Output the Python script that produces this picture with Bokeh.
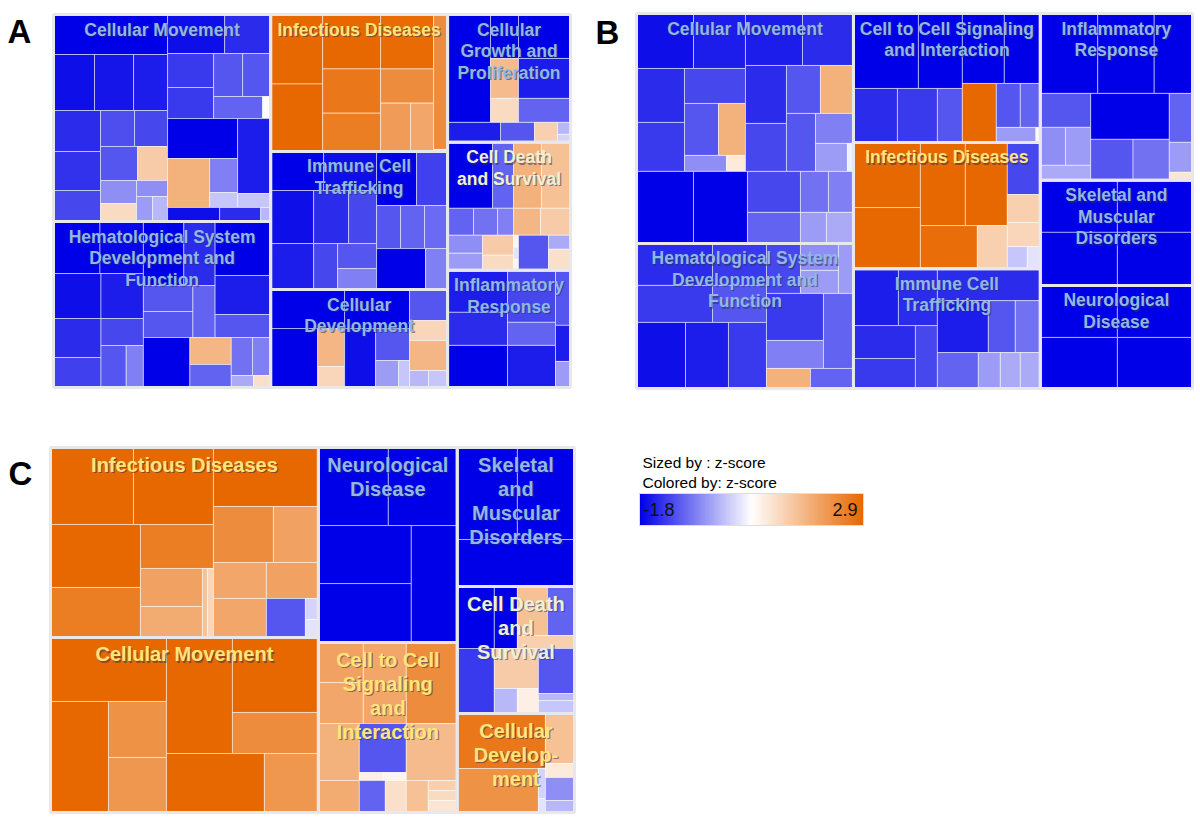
import numpy as np
from bokeh.plotting import figure
from bokeh.models import Range1d, LinearColorMapper
from bokeh.core.properties import value
from bokeh.embed import file_html
from bokeh.resources import INLINE

# ---------------- data ----------------
# leaf = (relative size, z-score); group = (relative size, split, [children])
# --- Panel A ---
A_names = ["Cellular Movement", "Hematological System\nDevelopment and\nFunction",
           "Infectious Diseases", "Immune Cell\nTrafficking", "Cellular\nDevelopment",
           "Cellular\nGrowth and\nProliferation", "Cell Death\nand Survival",
           "Inflammatory\nResponse"]
A_sizes = [44.9, 36.0, 24.2, 24.4, 17.3, 15.7, 15.7, 14.4]
A_columns = [[0, 1], [2, 3, 4], [5, 6, 7]]

A_cellular_movement = ("h", [
    (114, "v", [
        (40, -1.8),
        (56, "h", [(41, -1.7), (39, -1.65), (34, -1.6)]),
        (111, "h", [
            (47, "v", [(41, -1.5), (39, -1.45), (31, -1.3)]),
            (67, "v", [
                (36, "h", [(34, -1.25), (33, -1.3)]),
                (34, "h", [(37, -1.2), (30, 1.0)]),
                (41, "h", [(36, "v", [(23, -0.8), (18, 0.7)]),
                           (31, "v", [(16, -0.8), (25, "h", [(16, -0.7), (15, -0.5)])])]),
            ]),
        ]),
    ]),
    (103, "v", [
        (39, "h", [(57, -1.7), (46, -1.5)]),
        (65, "h", [(46, "v", [(34, -1.4), (31, -1.4)]),
                   (57, "v", [(43, "h", [(29, -1.2), (28, -1.2)]),
                              (22, "h", [(49, -1.1), (8, 0.1)])])]),
        (89, "h", [(70, "v", [(40, -1.8), (49, "h", [(42, 1.5), (28, "v", [(34, -0.9), (15, -0.4)])])]),
                   (33, "v", [(75, -1.6), (14, -0.4)])]),
        (14, "h", [(52, -1.7), (41, -1.5), (10, -0.5)]),
    ]),
])
A_hematological = ("h", [
    (89, "v", [
        (52, "h", [(46, -1.8), (43, -1.75)]),
        (114, "h", [
            (47, "v", [(45, -1.7), (39, -1.5), (30, -1.35)]),
            (42, "v", [(45, -1.6), (27, -1.3), (42, "h", [(25, -1.2), (17, -0.9)])]),
        ]),
    ]),
    (126, "v", [
        (116, "h", [
            (71, "v", [(64, "h", [(40, -1.8), (31, -1.5)]),
                       (52, "h", [(49, "v", [(26, -1.2), (26, -1.2)]), (22, -1.1)])]),
            (55, "v", [(54, -1.8), (39, -1.6), (23, -1.2)]),
        ]),
        (50, "h", [(46, -1.8), (41, "v", [(27, 1.4), (23, -1.1)]),
                   (39, "v", [(38, "h", [(21, -1.0), (18, -0.9)]),
                              (12, "h", [(22, -0.6), (17, 0.6)])])]),
    ]),
])
A_infectious = ("h", [
    (52, "v", [(69, 2.9), (67, 2.9)]),
    (111, "v", [(54, "h", [(58, 2.9), (53, 2.85)]),
                (82, "h", [(58, "v", [(44, 2.6), (38, 2.5)]),
                           (53, "v", [(34, 2.2), (48, "h", [(30, 1.9), (23, 1.7)])])])]),
    (14, "v", [(134, 2.2), (2, 0.3)]),
])
A_immune = ("h", [
    (106, "v", [
        (39, "h", [(53, -1.8), (53, -1.7)]),
        (53, "h", [(43, -1.7), (35, -1.5), (28, -1.3)]),
        (46, "h", [(43, -1.6), (24, -1.3), (39, "v", [(25, -1.2), (21, -0.9)])]),
    ]),
    (71, "v", [(54, "h", [(40, -1.8), (31, -1.35)]),
               (43, "h", [(24, -1.2), (24, -1.1), (23, -1.05)]),
               (41, "h", [(49, -1.8), (22, -0.9)])]),
])
A_cell_dev = ("h", [
    (74, "v", [(39, -1.8), (59, "h", [(47, -1.8), (27, "v", [(38, 1.4), (21, 0.8)])])]),
    (65, "v", [(39, -1.8), (59, "h", [(31, -1.7), (34, "v", [(32, -1.2), (27, "h", [(23, -0.7), (11, -0.4)])])])]),
    (38, "v", [(31, -1.2), (20, 0.8), (30, 1.4), (17, "h", [(19, -0.5), (19, -0.4)])]),
])
A_growth = ("v", [
    (108, "h", [(43, -1.8),
                (80, "v", [(44, "h", [(28, -1.8), (52, -1.8)]),
                           (40, "h", [(28, 1.3), (52, -1.6)]),
                           (24, "h", [(28, 0.7), (52, -1.1)])])]),
    (20, "h", [(53, -1.6), (34, -1.2), (23, 0.9), (13, "v", [(12, -0.5), (8, -0.3)])]),
])
A_death = ("v", [
    (93, "h", [(66, "v", [(66, "h", [(45, -1.8), (21, -1.1)]),
                          (27, "h", [(26, -1.1), (24, -1.0), (16, -0.9)])]),
               (57, "v", [(66, "h", [(28, 1.5), (29, 1.2)]),
                          (27, "h", [(27, 1.4), (30, 1.0)])])]),
    (35, "h", [(35, "v", [(18, -0.8), (17, -0.7)]), (31, "v", [(20, 1.0), (15, 0.7)]),
               (5, "v", [(12, 0.2), (12, -0.2), (11, 0.2)]), (30, -1.2),
               (22, "v", [(14, -0.6), (21, 0.6)])]),
])
A_inflam = ("h", [
    (108, "v", [(75, "h", [(60, "v", [(42, -1.6), (33, -1.5)]), (48, "v", [(52, -1.3), (23, -1.1)])]),
                (42, "h", [(60, -1.8), (48, -1.6)])]),
    (15, "v", [(55, -1.2), (36, -1.6), (26, -0.7)]),
])
A_trees = [A_cellular_movement, A_hematological, A_infectious, A_immune, A_cell_dev,
           A_growth, A_death, A_inflam]

# --- Panel B ---
B_names = ["Cellular Movement", "Hematological System\nDevelopment and\nFunction",
           "Cell to Cell Signaling\nand Interaction", "Infectious Diseases",
           "Immune Cell\nTrafficking", "Inflammatory\nResponse",
           "Skeletal and\nMuscular\nDisorders", "Neurological\nDisease"]
B_sizes = [49.9, 31.5, 24.1, 23.6, 22.4, 25.4, 16.0, 15.7]
B_columns = [[0, 1], [2, 3, 4], [5, 6, 7]]

B_cell_movement = ("v", [
    (158, "h", [
        (109, "v", [(55, "h", [(57, -1.7), (52, -1.6)]),
                    (103, "h", [(48, "v", [(54, -1.5), (49, -1.4)]),
                                (61, "v", [(35, -1.3), (52, "h", [(34, -1.2), (27, 1.5)]),
                                           (16, "h", [(42, -0.8), (19, 0.4)])])])]),
        (108, "v", [(52, "h", [(57, -1.6), (51, -1.5)]),
                    (106, "h", [(41, "v", [(58, -1.5), (48, -1.3)]),
                                (67, "v", [(48, "h", [(34, -1.2), (33, 1.5)]),
                                           (58, "h", [(29, -1.2),
                                                      (38, "v", [(30, -0.9),
                                                                 (28, "h", [(32, -0.7), (6, -0.1)])])])])])]),
    ]),
    (72, "h", [(57, -1.8), (54, -1.8),
               (106, "v", [(41, "h", [(53, -1.3), (28, -1.0), (25, -0.9)]),
                           (31, "h", [(53, -1.1), (26, -0.7), (27, -0.6)])])]),
])
B_hematological = ("h", [
    (130, "v", [(79, "h", [(76, "v", [(42, -1.5), (37, -1.4)]), (54, "v", [(42, -1.4), (37, -1.2)])]),
                (66, "h", [(49, -1.7), (43, -1.6), (38, -1.4)])]),
    (87, "v", [(50, "h", [(34, -1.3), (38, "v", [(27, -0.8), (23, -0.7)]), (15, -0.7)]),
               (75, "h", [(57, "v", [(47, -1.4), (28, -0.9)]), (30, -1.1)]),
               (20, "h", [(44, 1.5), (43, -1.1)])]),
])
B_cell_signaling = ("h", [
    (109, "v", [(75, "h", [(65, -1.8), (44, -1.8)]),
                (54, "h", [(44, -1.5), (40, -1.4), (25, -1.2)])]),
    (78, "v", [(70, "h", [(42, -1.8), (36, -1.8)]),
               (59, "h", [(34, 2.9), (44, "v", [(44, "h", [(24, -1.2), (20, -1.1)]),
                                                (15, "h", [(36, -0.7), (4, 0.1)])])])]),
])
B_infectious = ("h", [
    (67, "v", [(65, 2.9), (61, 2.9)]),
    (87, "v", [(83, "h", [(45, 2.9), (42, 2.9)]), (43, "h", [(57, 2.8), (30, 0.9)])]),
    (33, "v", [(52, -1.3), (28, 0.9), (24, 0.8), (22, "h", [(20, -0.4), (13, -0.2)])]),
])
B_immune = ("h", [
    (84, "v", [(57, "h", [(45, -1.6), (39, -1.5)]),
               (63, "h", [(62, "v", [(33, -1.5), (30, -1.4)]), (22, -1.3)])]),
    (103, "v", [(32, -1.5),
                (52, "h", [(51, -1.6), (27, -1.2), (25, -1.0)]),
                (36, "h", [(41, -1.1), (22, -0.7), (20, -0.6), (20, -0.6)])]),
])
B_inflam = ("v", [
    (80, "h", [(57, -1.8), (56, -1.8), (38, -1.8)]),
    (87, "h", [(50, "v", [(34, -1.2), (38, "h", [(25, -0.8), (25, -0.7)]), (15, -0.6)]),
               (78, "v", [(46, -1.8), (41, "h", [(42, -1.2), (36, -1.0)])]),
               (23, "v", [(49, -1.1), (30, -0.7), (8, 0.5)])]),
])
B_skeletal = ("v", [(52, "h", [(77, -1.8), (75, -1.8)]), (53, "h", [(77, -1.8), (75, -1.8)])])
B_neuro = ("v", [(52, "h", [(77, -1.8), (75, -1.8)]), (51, "h", [(77, -1.8), (75, -1.8)])])
B_trees = [B_cell_movement, B_hematological, B_cell_signaling, B_infectious, B_immune,
           B_inflam, B_skeletal, B_neuro]

# --- Panel C ---
C_names = ["Infectious Diseases", "Cellular Movement", "Neurological\nDisease",
           "Cell to Cell\nSignaling\nand\nInteraction", "Skeletal\nand\nMuscular\nDisorders",
           "Cell Death\nand\nSurvival", "Cellular\nDevelop-\nment"]
C_sizes = [50.9, 46.9, 27.1, 23.6, 16.3, 14.9, 11.6]
C_columns = [[0, 1], [2, 3], [4, 5, 6]]

C_infectious = ("h", [
    (163, "v", [(77, "h", [(83, 2.9), (80, 2.9)]),
                (113, "h", [(90, "v", [(63, 2.9), (50, 2.5)]),
                            (73, "v", [(44, 2.5),
                                       (69, "h", [(62, "v", [(38, 1.8), (31, 1.6)]),
                                                  (11, "h", [(5, 1.2), (6, 0.8)])])])])]),
    (105, "v", [(59, 2.9), (56, "h", [(60, 2.2), (45, 1.8)]),
                (36, "h", [(53, 1.7), (52, 1.8)]),
                (39, "h", [(53, 1.7), (39, -1.2), (13, "v", [(21, -0.3), (18, -0.2)])])]),
])
C_movement = ("h", [
    (116, "v", [(64, 2.9), (111, "h", [(58, 2.9), (58, "v", [(56, 2.1), (55, 2.0)])])]),
    (152, "v", [(116, "h", [(66, 2.9), (86, "v", [(75, 2.9), (41, 2.2)])]),
                (59, "h", [(98, 2.9), (54, 2.0)])]),
])
C_neuro = ("v", [(78, "h", [(70, -1.8), (69, -1.8)]),
                 (117, "h", [(93, "v", [(58, -1.8), (59, -1.8)]), (46, -1.8)])])
C_signaling = ("v", [
    (81, "h", [(45, "v", [(40, 1.8), (41, 1.7)]), (43, 1.7), (51, 2.2)]),
    (89, "h", [(41, "v", [(57, 1.5), (32, 1.6)]),
               (47, "v", [(49, -1.2), (8, "h", [(24, 0.3), (23, 0.2)]),
                          (32, "h", [(26, -1.1), (21, 0.6)])]),
               (51, "v", [(57, 1.3), (32, "h", [(22, 1.2),
                                                (29, "v", [(10, 0.9), (10, 0.7), (12, 0.5)])])])]),
])
C_skeletal = ("v", [(92, "h", [(60, -1.8), (57, -1.8)]), (47, -1.8)])
C_death = ("h", [
    (37, "v", [(62, -1.8), (65, -1.4)]),
    (80, "v", [(62, "h", [(23, -1.8), (57, "v", [(49, "h", [(30, 1.2), (27, -1.1)]), (13, 0.9)])]),
               (65, "h", [(44, "v", [(40, 1.0), (25, "h", [(23, -0.5), (21, 0.3)])]),
                          (36, "v", [(45, -1.2), (20, "v", [(7, -0.5), (13, -0.4)])])])]),
])
C_cell_dev = ("h", [
    (88, "v", [(55, 2.6), (44, "h", [(81, 2.1), (7, "v", [(30, -0.3), (14, -0.2)])])]),
    (29, "v", [(50, 1.2), (14, 0.4), (23, -0.8), (12, -0.5)]),
])
C_trees = [C_infectious, C_movement, C_neuro, C_signaling, C_skeletal, C_death, C_cell_dev]

# colour scale
z_low, z_high = -1.8, 2.9
legend_lines = ["Sized by : z-score", "Colored by: z-score"]
panel_letters = ["A", "B", "C"]

# ---------------- helpers ----------------
BLUE = np.array([0, 0, 232])
WHITE = np.array([255, 255, 255])
ORANGE = np.array([232, 104, 0])


def zcolor(z):
    if z < 0:
        t = min(1.0, z / z_low)
        c = WHITE * (1 - t) + BLUE * t
    else:
        t = min(1.0, z / z_high)
        c = WHITE * (1 - t) + ORANGE * t
    return "#%02x%02x%02x" % tuple(int(round(v)) for v in c)


def layout(children, split, x0, y0, x1, y1, out):
    total = float(sum(c[0] for c in children))
    pos = x0 if split == "h" else y0
    span = (x1 - x0) if split == "h" else (y1 - y0)
    for c in children:
        d = span * c[0] / total
        r = (pos, y0, pos + d, y1) if split == "h" else (x0, pos, x1, pos + d)
        pos += d
        if len(c) == 2:
            out.append((r, c[1]))
        else:
            layout(c[2], c[1], r[0], r[1], r[2], r[3], out)


def panel_layout(sizes, columns, box):
    x0, y0, x1, y1 = box
    total = sum(sizes)
    rects = [None] * len(sizes)
    x = x0
    for col in columns:
        cs = sum(sizes[i] for i in col)
        w = (x1 - x0) * cs / total
        y = y0
        for i in col:
            h = (y1 - y0) * sizes[i] / cs
            rects[i] = (x, y, x + w, y + h)
            y += h
        x += w
    return rects


W, H = 1195, 815
p = figure(width=W, height=H, x_range=Range1d(0, W), y_range=Range1d(H, 0),
           output_backend="svg", toolbar_location=None, min_border=0)
p.axis.visible = False
p.grid.visible = False
p.outline_line_color = None
p.background_fill_color = "white"
p.border_fill_color = "white"

FONT = value("Liberation Sans")


def draw_panel(names, sizes, columns, trees, box, font_px, line_h, top_off):
    rects = panel_layout(sizes, columns, box)
    L, T, R, B, C = [], [], [], [], []
    labels = []
    for name, rect, tree in zip(names, rects, trees):
        out = []
        layout(tree[1], tree[0], rect[0], rect[1], rect[2], rect[3], out)
        area_z = 0.0
        area = 0.0
        for (r, z) in out:
            L.append(r[0]); T.append(r[1]); R.append(r[2]); B.append(r[3]); C.append(zcolor(z))
            a = (r[2] - r[0]) * (r[3] - r[1])
            area += a
            area_z += a * z
        mz = area_z / area
        if mz > 0.8:
            col = "#ffe57a"
        elif mz > -0.8:
            col = "#eef0d4"
        else:
            col = "#90b8e6"
        labels.append((name, rect, col))
    p.quad(left=L, right=R, top=T, bottom=B, fill_color=C, line_color="white",
           line_alpha=0.5, line_width=1)
    p.quad(left=[r[0] for r in rects], right=[r[2] for r in rects],
           top=[r[1] for r in rects], bottom=[r[3] for r in rects],
           fill_color=None, line_color="#e8e8ec", line_width=3)
    tx, ty, tt, tc = [], [], [], []
    for name, rect, col in labels:
        cx = (rect[0] + rect[2]) / 2
        for k, line in enumerate(name.split("\n")):
            tx.append(cx); ty.append(rect[1] + top_off + k * line_h); tt.append(line); tc.append(col)
    fs = "%.1fpx" % font_px
    p.text(x=[v + 1.2 for v in tx], y=[v + 1.2 for v in ty], text=tt, text_color="#30305a",
           text_alpha=0.55, text_align="center", text_baseline="middle", text_font=FONT,
           text_font_style="bold", text_font_size=fs)
    p.text(x=tx, y=ty, text=tt, text_color=tc, text_align="center", text_baseline="middle",
           text_font=FONT, text_font_style="bold", text_font_size=fs)


draw_panel(A_names, A_sizes, A_columns, A_trees, (53, 14, 570, 387), 17.5, 21.5, 15)
draw_panel(B_names, B_sizes, B_columns, B_trees, (636, 13, 1192, 388), 17.5, 21.5, 15)
draw_panel(C_names, C_sizes, C_columns, C_trees, (50, 447, 574, 812), 20, 24, 17)

# panel letters
p.text(x=[7, 595, 8], y=[31, 32, 473], text=panel_letters, text_color="black",
       text_font=FONT, text_font_style="bold", text_font_size="33px",
       text_align="left", text_baseline="middle")

# legend
p.text(x=[642, 642], y=[462, 482], text=legend_lines, text_color="black", text_font=FONT,
       text_font_size="15.5px", text_align="left", text_baseline="middle")
n = 256
palette = []
for i in range(n):
    f = i / (n - 1)
    if f < 0.5:
        t = 1 - f / 0.5
        c = WHITE * (1 - t) + BLUE * t
    else:
        t = (f - 0.5) / 0.5
        c = WHITE * (1 - t) + ORANGE * t
    palette.append("#%02x%02x%02x" % tuple(int(round(v)) for v in c))
mapper = LinearColorMapper(palette=palette, low=z_low, high=z_high)
grad = np.linspace(z_low, z_high, 300).reshape(1, -1)
p.image(image=[grad], x=639, y=493, dw=224, dh=32, color_mapper=mapper)
p.quad(left=[639], right=[863], top=[493], bottom=[525], fill_color=None,
       line_color="#dddddd", line_width=1)
p.text(x=[643], y=[509], text=["%.1f" % z_low], text_color="#111111", text_font=FONT,
       text_font_size="18px", text_align="left", text_baseline="middle")
p.text(x=[857], y=[509], text=["%.1f" % z_high], text_color="#111111", text_font=FONT,
       text_font_size="18px", text_align="right", text_baseline="middle")

open("out.html", "w").write(file_html(p, INLINE))
